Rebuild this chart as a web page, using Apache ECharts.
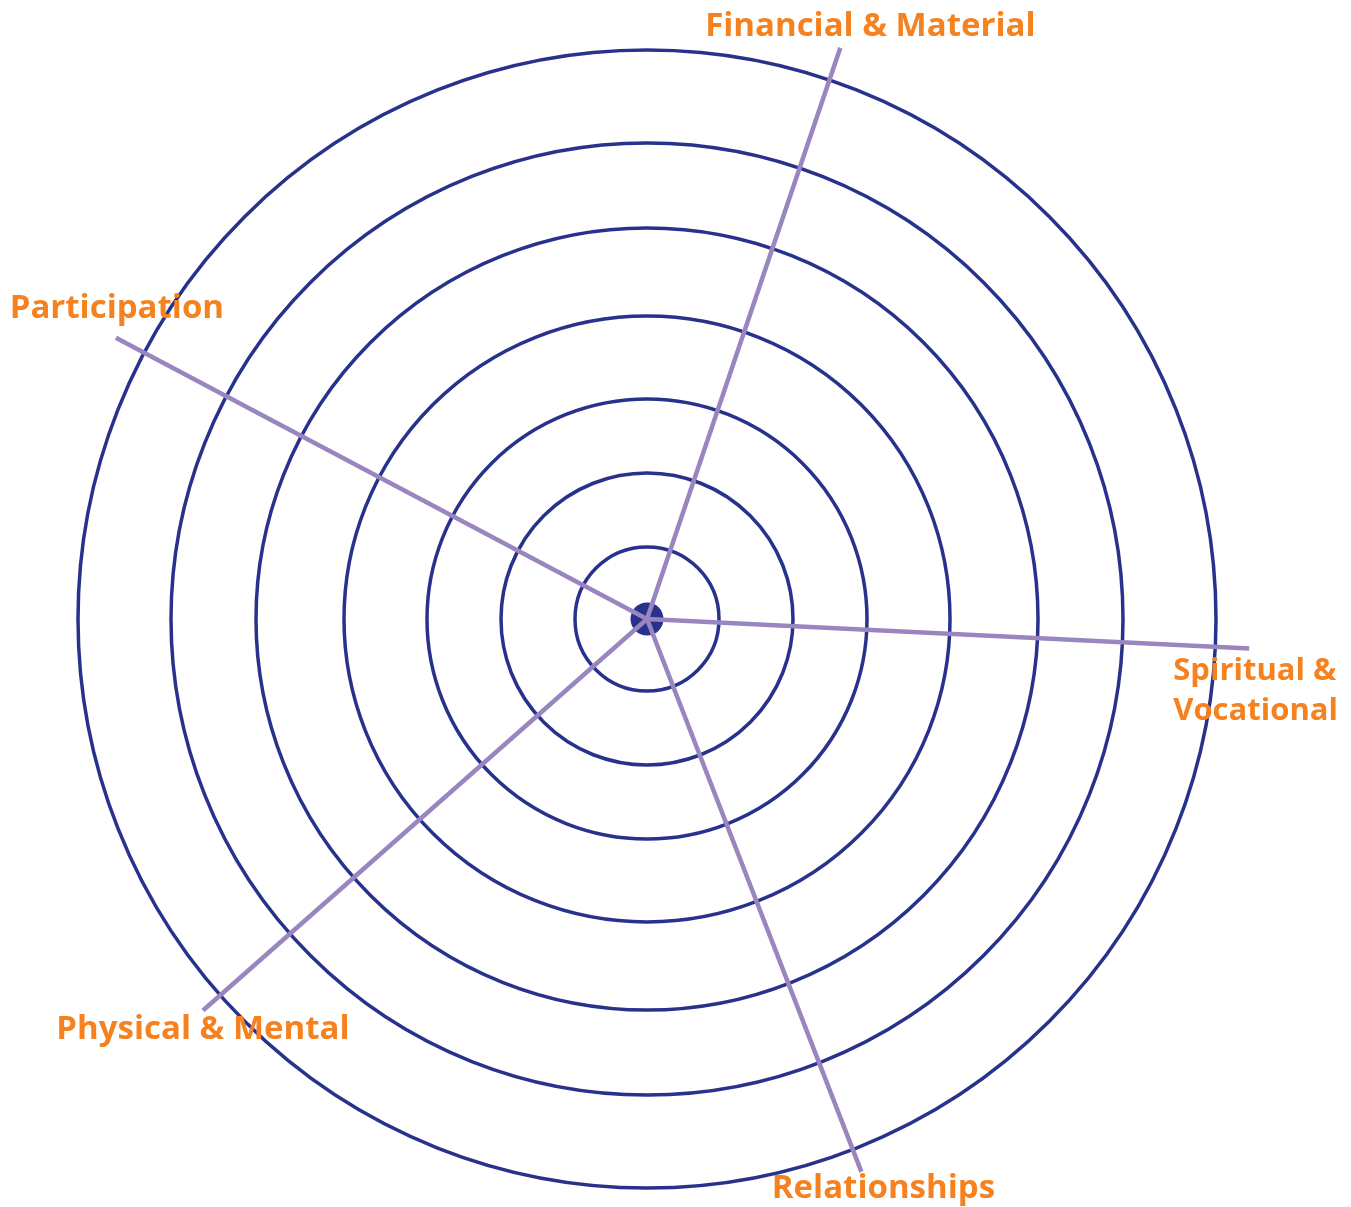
<!DOCTYPE html>
<html>
<head>
<meta charset="utf-8">
<script src="https://cdn.jsdelivr.net/npm/echarts@6/dist/echarts.min.js"></script>
<style>
html,body{margin:0;padding:0;background:#fff;}
#main{width:1351px;height:1207px;}
</style>
</head>
<body>
<div id="main"></div>
<script>
// Data
const categories = ['Financial & Material', 'Spiritual &\nVocational', 'Relationships', 'Physical & Mental', 'Participation'];
const spokeAngles = [71.3, 357.2, 291.2, 221.4, 152.1];   // degrees, counter-clockwise from east
const spokeLengths = [603, 603, 593, 592, 601];
const ringRadii = [72, 146, 220, 303, 391, 476, 569];

// Label styling (offsets relative to spoke end)
const labelStyles = [
  { offset: [30, -21], align: 'center', fontSize: 33 },
  { offset: [-76, 43], align: 'left', fontSize: 31 },
  { offset: [22, 17], align: 'center', fontSize: 33 },
  { offset: [0, 19], align: 'center', fontSize: 33 },
  { offset: [1, -29], align: 'center', fontSize: 33 }
];

const NAVY = '#28328c';
const LILAC = '#9a86bf';
const ORANGE = '#f5821f';

const chart = echarts.init(document.getElementById('main'), null, { renderer: 'canvas' });

const series = [];
series.push({
  type: 'scatter',
  coordinateSystem: 'polar',
  data: [[0, 0]],
  symbolSize: 33,
  itemStyle: { color: NAVY, opacity: 1 },
  z: 2,
  silent: true
});
categories.forEach((c, i) => {
  series.push({
    type: 'line',
    coordinateSystem: 'polar',
    data: [[0, spokeAngles[i]], [spokeLengths[i], spokeAngles[i]]],
    showSymbol: false,
    lineStyle: { color: LILAC, width: 4.5 },
    z: 3,
    silent: true,
    animation: false
  });
});
series.push({
  type: 'scatter',
  coordinateSystem: 'polar',
  symbolSize: 1,
  itemStyle: { color: '#ffffff', opacity: 1 },
  z: 5,
  silent: true,
  data: categories.map((c, i) => ({
    value: [spokeLengths[i], spokeAngles[i]],
    name: c,
    label: {
      show: true,
      position: 'inside',
      formatter: c,
      offset: labelStyles[i].offset,
      align: labelStyles[i].align,
      verticalAlign: 'middle',
      color: ORANGE,
      opacity: 1,
      fontFamily: 'Open Sans',
      fontWeight: 'bold',
      fontSize: labelStyles[i].fontSize,
      lineHeight: 40
    }
  }))
});

chart.setOption({
  animation: false,
  backgroundColor: '#ffffff',
  polar: { center: [647, 619], radius: 620 },
  angleAxis: {
    type: 'value', min: 0, max: 360, startAngle: 0, clockwise: false,
    axisLine: { show: false }, axisTick: { show: false }, axisLabel: { show: false },
    splitLine: { show: false }
  },
  radiusAxis: {
    type: 'value', min: 0, max: 620,
    axisLine: { show: false },
    axisTick: { show: false, customValues: ringRadii },
    axisLabel: { show: false, customValues: ringRadii },
    splitLine: { show: true, lineStyle: { color: NAVY, width: 3.5 } }
  },
  series: series
});
</script>
</body>
</html>
